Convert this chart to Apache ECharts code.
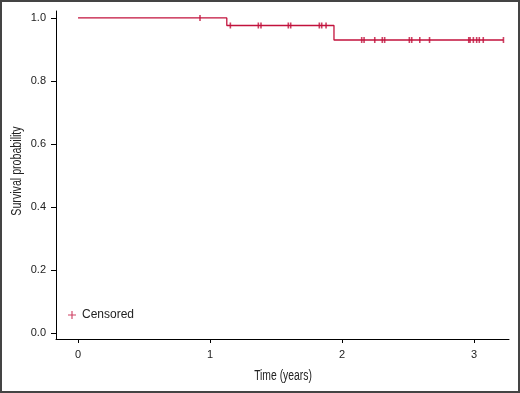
<!DOCTYPE html>
<html>
<head>
<meta charset="utf-8">
<script src="https://cdn.jsdelivr.net/npm/echarts@6/dist/echarts.min.js"></script>
<style>
  html, body { margin: 0; padding: 0; background: #fff; }
  #frame { width: 520px; height: 393px; box-sizing: border-box; border: 2px solid #444; position: relative; }
  #chart { position: absolute; left: -2px; top: -2px; width: 520px; height: 393px; }
</style>
</head>
<body>
<div id="frame"><div id="chart"></div></div>
<script>
// Kaplan-Meier steps (time in years, survival probability)
const eventTimes = [0, 1.127, 1.939, 3.223];
const survival = [1.0, 0.976, 0.930, 0.930];
// censored observations (years)
const censorTimes = [0.924, 1.154, 1.366, 1.386, 1.593, 1.611, 1.828, 1.846, 1.879,
    2.149, 2.167, 2.248, 2.305, 2.323, 2.510, 2.528, 2.589, 2.663,
    2.960, 2.970, 2.995, 3.020, 3.040, 3.070, 3.223];
const xTicks = [0, 1, 2, 3];
const yTicks = [0, 0.2, 0.4, 0.6, 0.8, 1.0];

const red = '#c2123c';
const plusPath = 'path://M4.3,0 L5.7,0 L5.7,4.3 L10,4.3 L10,5.7 L5.7,5.7 L5.7,10 L4.3,10 L4.3,5.7 L0,5.7 L0,4.3 L4.3,4.3 Z';
const titleFont = 'Liberation Sans, Arial, sans-serif';

function survivalAt(t) {
    let s = survival[0];
    for (let i = 0; i < eventTimes.length; i++) {
        if (eventTimes[i] <= t) s = survival[i];
    }
    return s;
}

const chart = echarts.init(document.getElementById('chart'));

const option = {
    animation: false,
    grid: { left: 56, right: 11, top: 11, bottom: 54 },
    legend: {
        left: 63, top: 304,
        itemWidth: 8, itemHeight: 8, itemGap: 5,
        data: [{ name: 'Censored', icon: plusPath }],
        textStyle: { fontFamily: 'Liberation Sans, Arial, sans-serif', fontSize: 12, color: '#222', padding: [0, 0, 0, 1] }
    },
    // axis titles drawn in a narrow (horizontally squeezed) face like the original
    graphic: [
        {
            type: 'text', x: 283, y: 376, scaleX: 0.74,
            style: { text: 'Time (years)', font: '14px ' + titleFont, fill: '#222', align: 'center', verticalAlign: 'middle' }
        },
        {
            type: 'text', x: 17, y: 171, rotation: Math.PI / 2, scaleX: 0.76,
            style: { text: 'Survival probability', font: '14px ' + titleFont, fill: '#222', align: 'center', verticalAlign: 'middle' }
        }
    ],
    xAxis: {
        type: 'value',
        min: -0.167, max: 3.265,
        axisLine: { show: true, onZero: false, lineStyle: { color: '#000', width: 1 } },
        axisTick: { show: true, length: 4, customValues: xTicks, lineStyle: { color: '#000' } },
        axisLabel: {
            customValues: xTicks, margin: 10,
            fontFamily: 'Liberation Sans, Arial, sans-serif', fontSize: 11, color: '#222'
        },
        splitLine: { show: false }
    },
    yAxis: {
        type: 'value',
        min: -0.019, max: 1.022,
        axisLine: { show: true, onZero: false, lineStyle: { color: '#000', width: 1 } },
        axisTick: { show: true, length: 5, customValues: yTicks, lineStyle: { color: '#000' } },
        axisLabel: {
            customValues: yTicks, margin: 10,
            formatter: v => v.toFixed(1),
            fontFamily: 'Liberation Sans, Arial, sans-serif', fontSize: 11, color: '#222'
        },
        splitLine: { show: false }
    },
    series: [
        {
            name: 'KM',
            type: 'line',
            step: 'end',
            data: eventTimes.map((t, i) => [t, survival[i]]),
            showSymbol: false,
            lineStyle: { color: red, width: 1.3 },
            z: 2
        },
        {
            name: 'Censored',
            type: 'scatter',
            symbol: 'path://M0,0 L1,0 L1,10 L0,10 Z',
            symbolSize: [1.6, 6],
            data: censorTimes.map(t => [t, survivalAt(t)]),
            itemStyle: { color: red },
            z: 3
        }
    ]
};
chart.setOption(option);
</script>
</body>
</html>
